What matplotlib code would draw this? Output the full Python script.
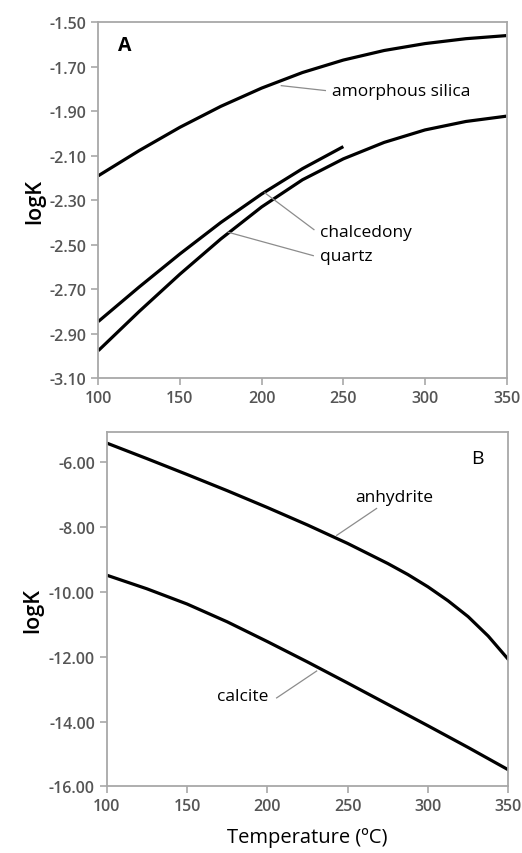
import matplotlib.pyplot as plt
import numpy as np

plt.rcParams['font.family'] = ['Open Sans', 'DejaVu Sans']

# temperatures (degC)
temps = [100, 125, 150, 175, 200, 225, 250, 275, 300, 325, 350]
temps_chal = [100, 125, 150, 175, 200, 225, 250]
temps_anh = [100, 125, 150, 175, 200, 225, 250, 275, 287.5, 300, 312.5, 325, 337.5, 350]

# panel A : silica phases
amorph = [-2.19, -2.077, -1.972, -1.878, -1.796, -1.726, -1.670, -1.627, -1.596, -1.574, -1.560]
chalced = [-2.845, -2.69, -2.541, -2.40, -2.272, -2.158, -2.059]
quartz = [-2.976, -2.80, -2.632, -2.474, -2.330, -2.208, -2.114, -2.040, -1.984, -1.946, -1.922]

# panel B : anhydrite and calcite
anhyd = [-5.40, -5.88, -6.37, -6.87, -7.39, -7.93, -8.50, -9.12, -9.46, -9.84, -10.27, -10.76, -11.36, -12.08]
calcite = [-9.48, -9.90, -10.37, -10.92, -11.53, -12.16, -12.81, -13.47, -14.13, -14.80, -15.49]

xticks = [100, 150, 200, 250, 300, 350]
yticksA = [-3.10, -2.90, -2.70, -2.50, -2.30, -2.10, -1.90, -1.70, -1.50]
yticksB = [-16, -14, -12, -10, -8, -6]

spine_col = '#a8a8a8'
tick_col = '#555555'
lead_col = '#8c8c8c'
tick_fs = 11.5
note_fs = 12.5

fig = plt.figure(figsize=(5.22, 8.54), dpi=100)
axA = fig.add_axes([0.1883, 0.5559, 0.7824, 0.4169])
axB = fig.add_axes([0.2044, 0.0781, 0.7693, 0.4152])


def style(ax):
	for s in ax.spines.values():
		s.set_color(spine_col)
		s.set_linewidth(1.3)
	ax.tick_params(axis='both', colors=spine_col, labelcolor=tick_col,
		labelsize=tick_fs, length=5, width=1.2, direction='out')
	for lab in ax.get_xticklabels() + ax.get_yticklabels():
		lab.set_fontweight('semibold')


# panel A
for xs, ys in [(temps, amorph), (temps_chal, chalced), (temps, quartz)]:
	axA.plot(xs, ys, color='black', lw=2.3, solid_joinstyle='round', solid_capstyle='butt')
axA.set_xlim(100, 350)
axA.set_ylim(-3.10, -1.50)
axA.set_xticks(xticks)
axA.set_yticks(yticksA)
axA.set_yticklabels(['%.2f' % v for v in yticksA])
axA.set_ylabel('logK', fontsize=15.5, fontweight='semibold', labelpad=3)
style(axA)
axA.text(0.064, 0.936, 'A', transform=axA.transAxes, fontsize=14,
	fontweight='bold', va='center', ha='center')

axA.plot([212, 239], [-1.785, -1.807], color=lead_col, lw=0.9)
axA.text(243, -1.807, 'amorphous silica', fontsize=note_fs, va='center')
axA.plot([202, 232], [-2.267, -2.432], color=lead_col, lw=0.9)
axA.text(236, -2.444, 'chalcedony', fontsize=note_fs, va='center')
axA.plot([179.6, 231.6], [-2.444, -2.549], color=lead_col, lw=0.9)
axA.text(236, -2.552, 'quartz', fontsize=note_fs, va='center')

# panel B
axB.plot(temps_anh, anhyd, color='black', lw=2.3, solid_joinstyle='round')
axB.plot(temps, calcite, color='black', lw=2.3, solid_joinstyle='round')
axB.set_xlim(100, 350)
axB.set_ylim(-16, -5.05)
axB.set_xticks(xticks)
axB.set_yticks(yticksB)
axB.set_yticklabels(['%.2f' % v for v in yticksB])
axB.set_ylabel('logK', fontsize=15.5, fontweight='semibold', labelpad=4)
axB.set_xlabel('Temperature (ºC)', fontsize=14.5, labelpad=9)
style(axB)
axB.text(0.924, 0.925, 'B', transform=axB.transAxes, fontsize=14,
	va='center', ha='center')

axB.plot([243.2, 268], [-8.25, -7.42], color=lead_col, lw=0.9)
axB.text(279, -7.08, 'anhydrite', fontsize=note_fs, va='center', ha='center')
axB.plot([205.8, 230.7], [-13.27, -12.44], color=lead_col, lw=0.9)
axB.text(184.5, -13.22, 'calcite', fontsize=note_fs, va='center', ha='center')

fig.savefig('out.png', dpi=100)
